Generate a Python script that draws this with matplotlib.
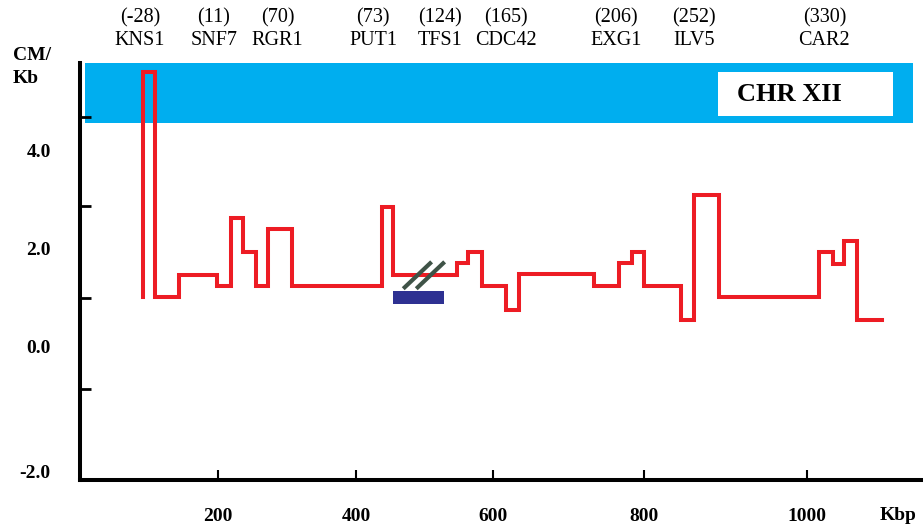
import numpy as np
import matplotlib.pyplot as plt
from matplotlib.patches import Rectangle

plt.rcParams['font.family'] = ['Liberation Serif', 'DejaVu Serif']

# recombination profile along chr XII: step edges (Kbp) and levels (CM/Kb)
edges = [91, 109, 143, 199, 219, 236, 255, 272, 307, 438, 454, 547, 563, 584,
         617, 634, 734, 767, 784, 800, 845, 861, 892, 1015, 1031, 1045, 1061, 1092]
levels = [5.59, 1.0, 1.45, 1.22, 2.61, 1.92, 1.22, 2.39, 1.22, 2.84, 1.45, 1.69,
          1.92, 1.22, 0.73, 1.47, 1.22, 1.69, 1.92, 1.22, 0.53, 3.08, 1.0, 1.92,
          1.67, 2.14, 0.53]
start_level = 1.0

# genes (genetic position in parentheses) and their place in Kbp
genes = ['KNS1', 'SNF7', 'RGR1', 'PUT1', 'TFS1', 'CDC42', 'EXG1', 'ILV5', 'CAR2']
gene_cm = ['(-28)', '(11)', '(70)', '(73)', '(124)', '(165)', '(206)', '(252)', '(330)']
gene_kbp = [87, 194, 286, 425, 523, 617, 763, 861, 1021]

# navy bar under TFS1 and the break marks
bar_kbp = [454, 529]
bar_level = [0.86, 1.12]
break_kbp = [[471, 508], [490, 527]]
break_level = [1.20, 1.69]

# chromosome band
band_kbp = [7, 1130]
band_level = [4.55, 5.78]
box_kbp = [890, 1105]
box_level = [4.69, 5.59]
chr_label_kbp = 978

xticks = [200, 400, 600, 800, 1000]
ylabel_pos = [4.0, 2.0, 0.0, -2.57]
ylabel_txt = ['4.0', '2.0', '0.0', '-2.0']
ytick_marks = [4.673, 2.857, 0.98, -0.878]

# the printed Kbp axis is not evenly spaced
kb_pts = [-1000, 0, 200, 400, 600, 800, 1000, 3000]
px_pts = [-610, 80, 218, 356, 493, 644, 807, 2437]


def fwd(x):
    return np.interp(x, kb_pts, px_pts)


def inv(p):
    return np.interp(p, px_pts, kb_pts)


fig = plt.figure(figsize=(9.23, 5.26), dpi=100)
ax = fig.add_axes([80/923, 46/526, 843/923, 417/526])
ax.set_xscale('function', functions=(fwd, inv))
ax.set_xlim(0, 1142)
ax.set_ylim(-2.735, 5.78)

ax.fill_between(band_kbp, band_level[0], band_level[1], color='#00AEEF', lw=0, zorder=1)
ax.add_patch(Rectangle((box_kbp[0], box_level[0]), box_kbp[1] - box_kbp[0],
                       box_level[1] - box_level[0], facecolor='white', lw=0, zorder=2))
ax.text(chr_label_kbp, (box_level[0] + box_level[1]) / 2, 'CHR XII',
        fontsize=19, fontweight='bold', ha='center', va='center', zorder=3)

xs = [edges[0]]
ys = [start_level]
for i, lv in enumerate(levels):
    xs += [edges[i], edges[i+1]]
    ys += [lv, lv]
ax.plot(xs, ys, color='#ED1C24', lw=2.9, solid_joinstyle='miter', zorder=4)

ax.fill_between(bar_kbp, bar_level[0], bar_level[1], color='#2E3192', lw=0, zorder=4)
for bx in break_kbp:
    ax.plot(bx, break_level, color='#3F5347', lw=3, zorder=5)

for g, c, x in zip(genes, gene_cm, gene_kbp):
    ax.text(x, 1.108, c, transform=ax.get_xaxis_transform(), fontsize=14.5,
            ha='center', va='center')
    ax.text(x, 1.053, g, transform=ax.get_xaxis_transform(), fontsize=14.5,
            ha='center', va='center')

for s in ['top', 'right']:
    ax.spines[s].set_visible(False)
for s in ['left', 'bottom']:
    ax.spines[s].set_linewidth(2.9)

ax.set_xticks(xticks)
ax.set_xticklabels([str(t) for t in xticks], fontsize=14, fontweight='bold')
ax.tick_params(axis='x', direction='in', length=7, width=1.5, pad=20)
ax.set_yticks(ylabel_pos)
ax.set_yticklabels(ylabel_txt, fontsize=14, fontweight='bold')
ax.tick_params(axis='y', which='major', length=0, pad=21)
ax.set_yticks(ytick_marks, minor=True)
ax.tick_params(axis='y', which='minor', direction='in', length=8, width=2)
ax.tick_params(axis='x', which='minor', length=0)

fig.text(898/923, 1 - 515/526, 'Kbp', fontsize=14, fontweight='bold', ha='center', va='center')
fig.text(13/923, 1 - 67/526, 'CM/\nKb', fontsize=14, fontweight='bold', ha='left',
         va='center', linespacing=1.5)

fig.savefig('out.png', dpi=100)
